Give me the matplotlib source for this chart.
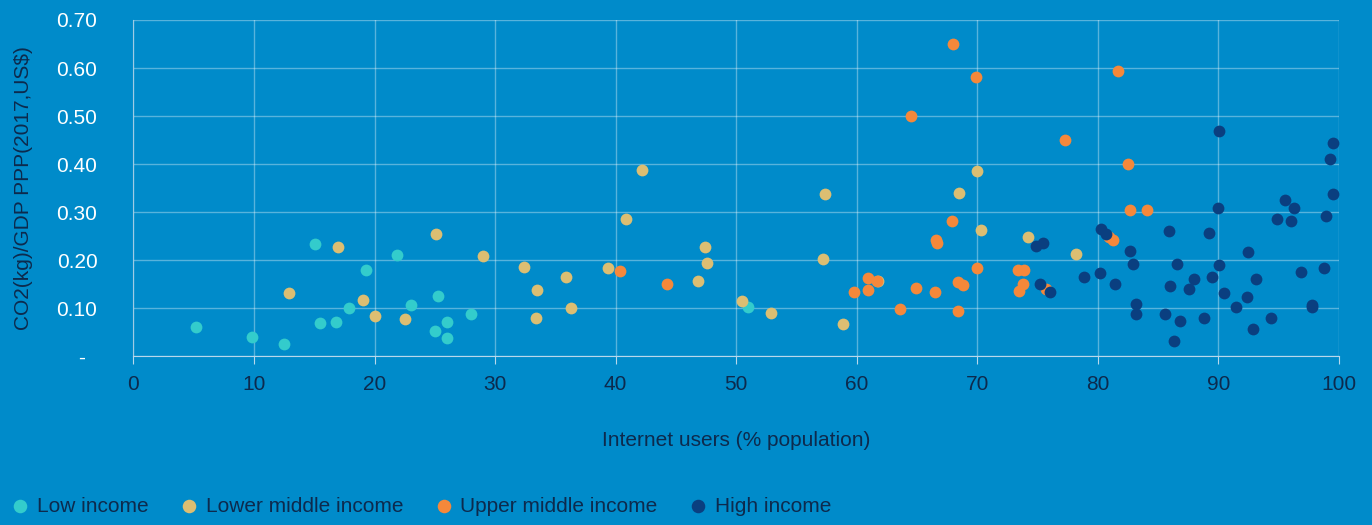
import matplotlib.pyplot as plt

plt.rcParams['font.family'] = ['Liberation Sans', 'DejaVu Sans']

# internet users (% population) and CO2(kg)/GDP PPP per income group
low_x = [5.2, 9.8, 12.5, 15.1, 15.5, 16.8, 17.9, 19.3, 21.9, 23.0, 25.0, 25.3, 26.0, 26.0, 28.0, 51.0]
low_y = [0.062, 0.040, 0.025, 0.233, 0.069, 0.071, 0.100, 0.180, 0.212, 0.107, 0.053, 0.126, 0.071, 0.039, 0.089, 0.102]

lower_mid_x = [17.0, 12.9, 19.0, 20.0, 22.5, 25.1, 29.0, 32.4, 33.5, 33.4, 35.9, 36.3, 39.4, 40.9, 42.2,
               46.8, 47.4, 47.6, 50.5, 52.9, 57.4, 57.2, 58.9, 70.0, 68.5, 70.3, 74.2, 78.2, 61.8]
lower_mid_y = [0.227, 0.133, 0.118, 0.085, 0.077, 0.254, 0.208, 0.187, 0.139, 0.079, 0.166, 0.100, 0.185, 0.285, 0.387,
               0.158, 0.227, 0.195, 0.116, 0.091, 0.337, 0.202, 0.067, 0.385, 0.341, 0.264, 0.248, 0.214, 0.158]

upper_mid_x = [40.4, 44.3, 68.0, 69.9, 64.5, 77.3, 81.7, 82.5, 82.7, 84.1, 80.9, 81.3, 67.9, 66.6, 66.7,
               70.0, 73.4, 73.9, 60.9, 61.7, 59.8, 60.9, 64.9, 66.5, 68.4, 68.8, 73.8, 73.5, 75.7, 63.6, 68.4]
upper_mid_y = [0.177, 0.150, 0.651, 0.582, 0.501, 0.451, 0.594, 0.401, 0.304, 0.304, 0.249, 0.243, 0.281, 0.242, 0.237,
               0.183, 0.179, 0.179, 0.164, 0.156, 0.135, 0.139, 0.143, 0.135, 0.154, 0.148, 0.150, 0.137, 0.141, 0.098, 0.094]

high_x = [74.9, 75.5, 75.2, 76.0, 78.9, 80.2, 80.3, 80.7, 81.4, 82.7, 82.9, 83.2, 83.2, 85.6, 85.9, 86.0,
          86.3, 86.6, 86.8, 87.6, 88.0, 88.8, 89.2, 89.5, 90.1, 90.0, 90.1, 90.5, 91.5, 92.4, 92.5, 92.9,
          93.1, 94.4, 94.9, 95.5, 96.0, 96.3, 96.9, 97.8, 97.8, 98.8, 98.9, 99.5, 99.3, 99.5]
high_y = [0.229, 0.235, 0.150, 0.135, 0.166, 0.173, 0.266, 0.254, 0.150, 0.220, 0.193, 0.110, 0.089, 0.089, 0.260, 0.146,
          0.033, 0.193, 0.073, 0.141, 0.162, 0.081, 0.256, 0.166, 0.468, 0.308, 0.191, 0.133, 0.102, 0.123, 0.218, 0.058,
          0.162, 0.079, 0.285, 0.326, 0.281, 0.308, 0.175, 0.108, 0.102, 0.183, 0.293, 0.337, 0.410, 0.445]

bg = '#008bca'
dark = '#0d2a4d'

fig = plt.figure(figsize=(13.72, 5.25), dpi=100, facecolor=bg)
ax = fig.add_axes([0.0973, 0.321, 0.8785, 0.641])
ax.set_facecolor(bg)

ms = 72
ax.scatter(low_x, low_y, s=ms, color='#33cccc', linewidths=0, label='Low income', zorder=3)
ax.scatter(lower_mid_x, lower_mid_y, s=ms, color='#dcbe72', linewidths=0, label='Lower middle income', zorder=3)
ax.scatter(upper_mid_x, upper_mid_y, s=ms, color='#f5883a', linewidths=0, label='Upper middle income', zorder=3)
ax.scatter(high_x, high_y, s=ms, color='#0a3f80', linewidths=0, label='High income', zorder=3)

ax.set_xlim(0, 100)
ax.set_ylim(0, 0.70)
ax.set_xticks(range(0, 101, 10))
yt = [0, 0.1, 0.2, 0.3, 0.4, 0.5, 0.6, 0.7]
ax.set_yticks(yt)
ax.set_yticklabels(['-  '] + ['%.2f' % v for v in yt[1:]])

ax.grid(True, color='white', alpha=0.35, linewidth=1)
ax.set_axisbelow(True)
for side in ['top', 'right']:
    ax.spines[side].set_visible(False)
ax.spines['left'].set_color('#9fcbe4')
ax.spines['bottom'].set_color('#b8d8ec')

ax.tick_params(axis='x', colors='#b8d8ec', labelcolor=dark, labelsize=15, length=6, pad=7)
ax.tick_params(axis='y', length=0, labelcolor='white', labelsize=15, pad=26)

ax.set_xlabel('Internet users (% population)', color=dark, fontsize=15, labelpad=27)
ax.set_ylabel('CO2(kg)/GDP PPP(2017,US$)', color=dark, fontsize=15, labelpad=17)

fig.legend(loc='center left', bbox_to_anchor=(0.007, 0.036), ncol=4, frameon=False,
           fontsize=15, labelcolor=dark, handlelength=1.0, handletextpad=0.3,
           columnspacing=1.45, borderpad=0, borderaxespad=0, markerscale=1.15)

fig.savefig('out.png', dpi=100, facecolor=bg)
